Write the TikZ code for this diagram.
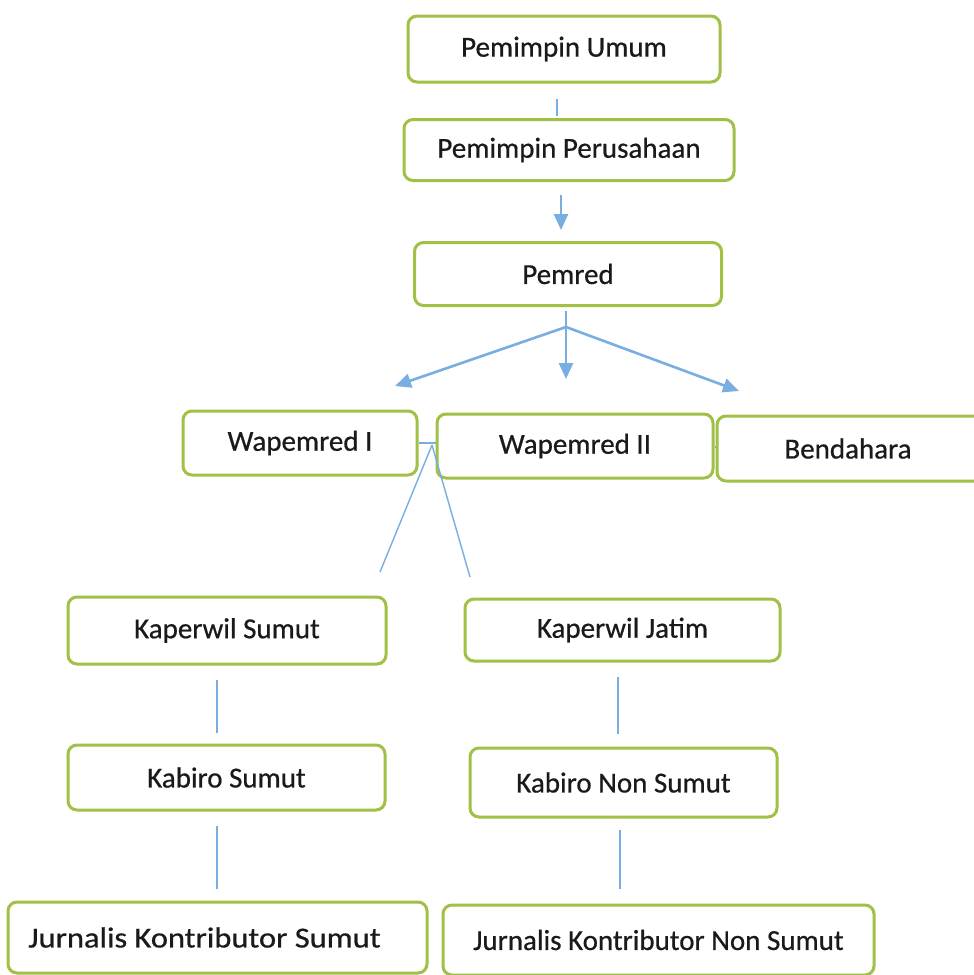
\documentclass[tikz,border=0pt]{standalone}
\usepackage{graphicx}
\usepackage{fontspec}
\setmainfont{Carlito}[FakeBold=0.6]
\usetikzlibrary{arrows.meta}
\definecolor{boxgreen}{HTML}{A0C145}
\definecolor{linkblue}{HTML}{78AEE2}
\definecolor{txt}{HTML}{1A1A1A}
\begin{document}
\begin{tikzpicture}[x=1pt,y=-1pt,
  box/.style={draw=boxgreen,line width=3pt,rounded corners=9pt,fill=white,
    inner sep=0pt,text=txt,font=\fontsize{29}{34}\selectfont},
  thinlink/.style={draw=linkblue,line width=1.4pt},
  arrowlink/.style={draw=linkblue,line width=2.6pt,
    -{Triangle[width=14pt,length=16pt]},fill=linkblue}]
\useasboundingbox (0,0) rectangle (974,975);
\fill[white] (0,0) rectangle (974,975);
% boxes
\node[box,minimum width=312pt,minimum height=66pt] (pu) at (564,49) {Pemimpin Umum};
\node[box,minimum width=330pt,minimum height=61pt] (pp) at (569,150) {Pemimpin Perusahaan};
\node[box,minimum width=307pt,minimum height=63pt] (pm) at (568,274) {Pemred};
\node[box,minimum width=234pt,minimum height=64pt] (w1) at (300,443) {Wapemred I};
\node[box,minimum width=276pt,minimum height=64pt] (w2) at (575,446) {Wapemred II};
\node[box,minimum width=270pt,minimum height=65pt] (bd) at (852,448.5) {\hspace*{-8pt}Bendahara};
\node[box,minimum width=318pt,minimum height=67pt] (ks) at (227,630.5) {Kaperwil Sumut};
\node[box,minimum width=315pt,minimum height=62pt] (kj) at (622.5,630) {Kaperwil Jatim};
\node[box,minimum width=317pt,minimum height=65pt] (kbs) at (226.5,777.5) {Kabiro Sumut};
\node[box,minimum width=307pt,minimum height=69pt] (kbn) at (623.5,782.5) {Kabiro Non Sumut};
\node[box,minimum width=419pt,minimum height=71pt] (js) at (217.5,937.5) {\hspace*{-26pt}\scalebox{1.12}[1]{Jurnalis Kontributor Sumut}};
\node[box,minimum width=431pt,minimum height=70pt] (jn) at (658.5,940) {Jurnalis Kontributor Non Sumut};
% free ends
\coordinate (br) at (566,327);
\coordinate (tipL) at (395,386);
\coordinate (tipM) at (566,379);
\coordinate (tipR) at (739,391);
\coordinate (fork) at (432,445);
\coordinate (endL) at (380,572);
\coordinate (endR) at (470,577);
% connectors
\draw[thinlink] ([xshift=-7pt,yshift=-15pt]pu.south) -- ([xshift=-12pt,yshift=2pt]pp.north);
\draw[arrowlink] ([xshift=-8pt,yshift=-13pt]pp.south) -- ([xshift=-7pt,yshift=11pt]pm.north);
\draw[thinlink,line width=2pt] ([xshift=-2pt,yshift=-4pt]pm.south) -- (br);
\draw[arrowlink] (br) -- (tipL);
\draw[arrowlink] (br) -- (tipM);
\draw[arrowlink] (br) -- (tipR);
\draw[thinlink] (w1.east) -- (w1.east -| w2.west);
\draw[thinlink] (fork) -- (endL);
\draw[thinlink] (fork) -- (endR);
\draw[thinlink] ([yshift=-1pt]w2.east) -- ([yshift=-1pt]w2.east -| bd.west);
\draw[thinlink] ([xshift=-10pt,yshift=-14pt]ks.south) -- ([xshift=-9.5pt,yshift=11pt]kbs.north);
\draw[thinlink] ([xshift=-9.5pt,yshift=-14pt]kbs.south) -- ([xshift=-0.5pt,yshift=12pt]js.north);
\draw[thinlink] ([xshift=-4.5pt,yshift=-14pt]kj.south) -- ([xshift=-5.5pt,yshift=13pt]kbn.north);
\draw[thinlink] ([xshift=-3.5pt,yshift=-11pt]kbn.south) -- ([xshift=-38.5pt,yshift=15pt]jn.north);
\end{tikzpicture}
\end{document}
